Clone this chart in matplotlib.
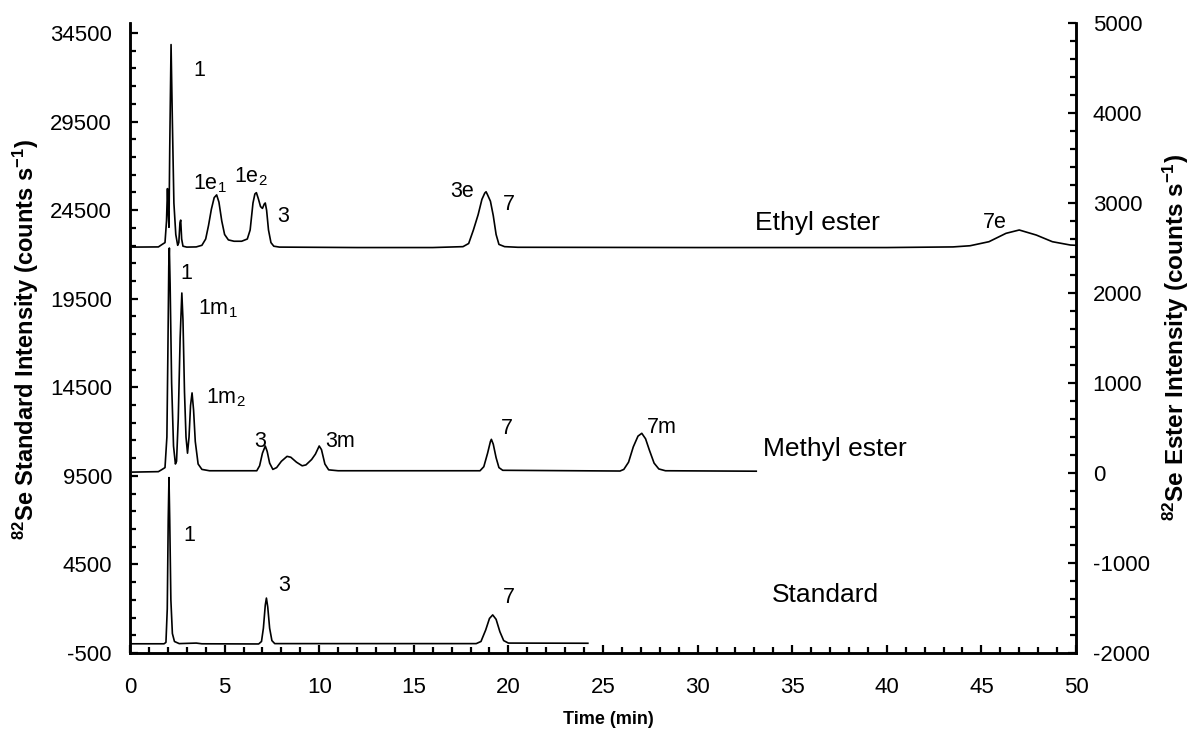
import numpy as np
import matplotlib
matplotlib.use("Agg")
import matplotlib.pyplot as plt
from matplotlib.ticker import MultipleLocator

plt.rcParams['font.family'] = ['Liberation Sans', 'DejaVu Sans']
plt.rcParams['mathtext.default'] = 'regular'
plt.rcParams['axes.unicode_minus'] = False

# Ethyl ester trace (right axis, counts/s, offset baseline ~2500)
ethyl_t = [0.15, 1.5, 1.7, 1.85, 1.93, 1.98, 2.02, 2.06, 2.10, 2.17, 2.24, 2.32, 2.42, 2.52,
           2.58, 2.64, 2.68, 2.73, 2.80, 3.0, 3.5, 3.8, 4.0, 4.15, 4.3, 4.45, 4.58, 4.7, 4.85,
           5.0, 5.2, 5.5, 5.9, 6.2, 6.35, 6.5, 6.6, 6.68, 6.78, 6.9, 7.0, 7.1, 7.15, 7.22,
           7.32, 7.45, 7.6, 7.9, 12.0, 16.0, 17.6, 17.9, 18.15, 18.4, 18.6, 18.75, 18.82,
           18.9, 19.05, 19.2, 19.35, 19.5, 19.8, 20.5, 30.0, 40.0, 43.5, 44.4, 45.4, 46.3,
           47.0, 47.9, 48.75, 49.7, 50.0]
ethyl_y = [2510, 2512, 2540, 2560, 2800, 3160, 2900, 2730, 3600, 4760, 3900, 3000, 2650, 2530,
           2560, 2780, 2810, 2600, 2520, 2510, 2512, 2530, 2600, 2750, 2930, 3060, 3090, 3010, 2800,
           2650, 2590, 2575, 2575, 2600, 2700, 3000, 3100, 3115, 3050, 2960, 2940, 2990, 3000, 2920,
           2700, 2560, 2520, 2510, 2505, 2505, 2515, 2550, 2700, 2870, 3040, 3110, 3125,
           3090, 3020, 2860, 2650, 2540, 2515, 2508, 2505, 2505, 2512, 2525, 2570, 2663,
           2700, 2644, 2570, 2533, 2530]

# Methyl ester trace (right axis)
methyl_t = [0.15, 1.5, 1.7, 1.85, 1.95, 2.0, 2.05, 2.08, 2.12, 2.2, 2.3, 2.4, 2.46, 2.55, 2.65,
            2.74, 2.8, 2.88, 2.96, 3.04, 3.12, 3.2, 3.28, 3.36, 3.45, 3.6, 3.8, 4.2, 6.7, 6.85,
            7.0, 7.15, 7.25, 7.38, 7.55, 7.75, 8.0, 8.3, 8.5, 8.8, 9.1, 9.3, 9.6, 9.8, 10.0,
            10.12, 10.3, 10.5, 11.0, 18.5, 18.7, 18.9, 19.05, 19.1, 19.2, 19.35, 19.5, 19.7,
            25.9, 26.1, 26.35, 26.6, 26.85, 27.05, 27.25, 27.45, 27.7, 27.95, 28.3, 33.1]
methyl_y = [10, 15, 40, 60, 400, 1300, 2300, 2500, 2100, 1000, 300, 100, 130, 600, 1500,
            2000, 1700, 900, 400, 220, 400, 750, 890, 700, 350, 100, 40, 25, 25, 80,
            220, 300, 240, 110, 40, 60, 130, 185, 175, 120, 80, 90, 150, 210, 300,
            260, 100, 35, 25, 25, 70, 220, 350, 374, 320, 170, 60, 30,
            22, 40, 120, 290, 410, 441, 380, 255, 110, 45, 25, 20]

# Standard trace (left axis)
std_t = [0.05, 1.8, 1.9, 1.97, 2.02, 2.06, 2.1, 2.16, 2.24, 2.35, 2.6, 3.5, 3.8, 6.8, 6.95,
         7.05, 7.15, 7.21, 7.28, 7.38, 7.5, 7.65, 18.3, 18.55, 18.8, 19.0, 19.17, 19.35,
         19.55, 19.75, 20.0, 24.2]
std_y = [20, 20, 100, 2000, 7000, 9400, 7000, 2500, 600, 150, 30, 60, 20, 10, 150,
         900, 2200, 2600, 2100, 900, 200, 30, 30, 150, 800, 1450, 1650, 1400,
         700, 200, 60, 50]

fig = plt.figure(figsize=(11.9, 7.31), dpi=100)
ax = fig.add_axes([130 / 1190, 78 / 731, 946 / 1190, 630 / 731])
ax2 = ax.twinx()

ax.plot(std_t, std_y, color='black', lw=1.2)
ax2.plot(methyl_t, methyl_y, color='black', lw=1.2)
ax2.plot(ethyl_t, ethyl_y, color='black', lw=1.2)

ax.set_xlim(0, 50)
ax.set_ylim(-500, 35060)
ax2.set_ylim(-2000, 5000)

ax.xaxis.set_major_locator(MultipleLocator(5))
ax.xaxis.set_minor_locator(MultipleLocator(1))
ax.yaxis.set_major_locator(MultipleLocator(5000, offset=-500))
ax.yaxis.set_minor_locator(MultipleLocator(1000, offset=-500))
ax2.yaxis.set_major_locator(MultipleLocator(1000))
ax2.yaxis.set_minor_locator(MultipleLocator(200))

for a in (ax, ax2):
    a.spines['top'].set_visible(False)
    for s in ('left', 'right', 'bottom'):
        a.spines[s].set_linewidth(1.8)
ax.tick_params(axis='both', which='major', direction='in', length=6, width=1.6, labelsize=16)
ax.tick_params(axis='both', which='minor', direction='in', length=4.5, width=1.6)
ax.tick_params(axis='x', which='major', pad=17)
ax.tick_params(axis='y', which='major', pad=13)
ax2.tick_params(axis='y', which='major', direction='in', length=6, width=1.6, labelsize=16, pad=12)
ax2.tick_params(axis='y', which='minor', direction='in', length=4.5, width=1.6)

# peak labels
lab = dict(fontsize=15.5, color='black')
ax2.text(3.33, 4477, '1', ha='left', va='center', **lab)
ax2.text(3.33, 3152, '1e$_1$', ha='left', va='baseline', **lab)
ax2.text(5.5, 3225, '1e$_2$', ha='left', va='baseline', **lab)
ax2.text(7.79, 2792, '3', ha='left', va='baseline', **lab)
ax2.text(16.9, 3070, '3e', ha='left', va='baseline', **lab)
ax2.text(19.73, 2922, '7', ha='left', va='baseline', **lab)
ax2.text(45.08, 2718, '7e', ha='left', va='baseline', **lab)
ax2.text(33.03, 2777, 'Ethyl ester', ha='left', va='center', fontsize=19)

ax2.text(2.64, 2152, '1', ha='left', va='baseline', **lab)
ax2.text(3.58, 1763, '1m$_1$', ha='left', va='baseline', **lab)
ax2.text(4.02, 774, '1m$_2$', ha='left', va='baseline', **lab)
ax2.text(6.57, 292, '3', ha='left', va='baseline', **lab)
ax2.text(10.31, 292, '3m', ha='left', va='baseline', **lab)
ax2.text(19.59, 433, '7', ha='left', va='baseline', **lab)
ax2.text(27.31, 441, '7m', ha='left', va='baseline', **lab)
ax2.text(33.44, 266, 'Methyl ester', ha='left', va='center', fontsize=19)

ax.text(2.82, 5840, '1', ha='left', va='baseline', **lab)
ax.text(7.84, 3017, '3', ha='left', va='baseline', **lab)
ax.text(19.73, 2306, '7', ha='left', va='baseline', **lab)
ax.text(33.91, 2774, 'Standard', ha='left', va='center', fontsize=19)

fig.text(26 / 1190, 1 - 340 / 731, '$^{82}$Se Standard Intensity (counts s$^{-1}$)',
         rotation=90, ha='center', va='center', fontsize=17, fontweight='bold')
fig.text(1176 / 1190, 1 - 338 / 731, '$^{82}$Se Ester Intensity (counts s$^{-1}$)',
         rotation=90, ha='center', va='center', fontsize=17.5, fontweight='bold')
fig.text(608 / 1190, 1 - 720 / 731, 'Time (min)', ha='center', va='center',
         fontsize=13, fontweight='bold')

fig.savefig('out.png', dpi=100)
